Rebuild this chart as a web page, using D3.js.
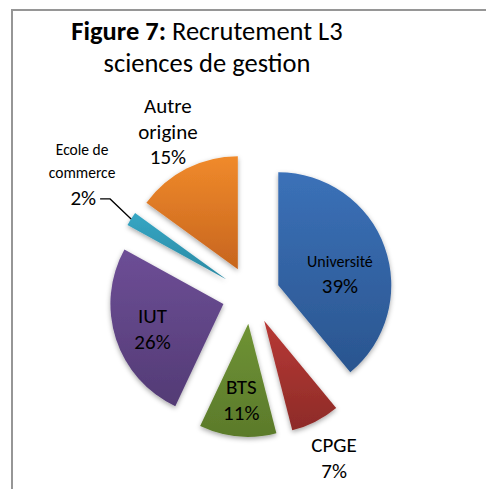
<!DOCTYPE html>
<html>
<head>
<meta charset="utf-8">
<script src="https://cdn.jsdelivr.net/npm/d3@7"></script>
<style>
  html, body { margin: 0; padding: 0; background: #fff; }
  svg { display: block; font-family: Carlito, Calibri, Lato, sans-serif; }
</style>
</head>
<body>
<svg id="chart" width="486" height="489"></svg>
<script>
// Data
const categories = ['Université', 'CPGE', 'BTS', 'IUT', 'Ecole de commerce', 'Autre origine'];
const values = [39, 7, 11, 26, 2, 15];
const labelLines = [['Université'], ['CPGE'], ['BTS'], ['IUT'], ['Ecole de', 'commerce'], ['Autre', 'origine']];

// Excel 2007 style gradient colours (top, bottom)
const COLORS = [
  ['#3b71b8', '#2a558f'],
  ['#b83935', '#8d2b28'],
  ['#6f9334', '#5b7a2b'],
  ['#6d4e96', '#533b75'],
  ['#36a6c4', '#2a89a3'],
  ['#f08a2b', '#c7651e']
];
// where each label goes: inside the slice, outside, or outside with a leader line
const LABEL_MODE = ['inside', 'outside', 'inside', 'inside', 'leader', 'outside'];

const svg = d3.select('#chart');
const width = 486;
const height = 489;

const cx = 251;
const cy = 295;
const radius = 113;
const explode = 29;
const big = 21;

// chart frame (top and left borders, the rest runs off the picture)
svg.append('path')
  .attr('d', `M12,${height} V10 H${width}`)
  .attr('fill', 'none')
  .attr('stroke', '#969696')
  .attr('stroke-width', 2);

// title
const title = svg.append('text')
  .attr('text-anchor', 'middle')
  .attr('font-size', 26.5)
  .attr('fill', '#000');
title.append('tspan')
  .attr('x', 207).attr('y', 40)
  .attr('font-weight', 'bold')
  .text('Figure 7:');
title.append('tspan')
  .text(' Recrutement L3');
title.append('tspan')
  .attr('x', 207).attr('y', 72)
  .text('sciences de gestion');

const defs = svg.append('defs');

const shadow = defs.append('filter')
  .attr('id', 'shadow')
  .attr('x', '-20%').attr('y', '-20%')
  .attr('width', '140%').attr('height', '140%');
shadow.append('feDropShadow')
  .attr('dx', 0).attr('dy', 2)
  .attr('stdDeviation', 2.5)
  .attr('flood-color', '#000')
  .attr('flood-opacity', 0.35);

COLORS.forEach((c, i) => {
  const g = defs.append('linearGradient')
    .attr('id', 'grad' + i)
    .attr('x1', 0).attr('y1', 0).attr('x2', 0).attr('y2', 1);
  g.append('stop').attr('offset', '0%').attr('stop-color', c[0]);
  g.append('stop').attr('offset', '100%').attr('stop-color', c[1]);
});

const pie = d3.pie()
  .sort(null)
  .value(d => d.value);

const arc = d3.arc()
  .innerRadius(0)
  .outerRadius(radius);

const data = categories.map((name, i) => ({
  name,
  value: values[i],
  lines: labelLines[i],
  mode: LABEL_MODE[i],
  index: i
}));

const arcs = pie(data);

// unit vector along a slice's bisector (d3 angles are clockwise from 12 o'clock)
function dir(d) {
  const a = (d.startAngle + d.endAngle) / 2;
  return [Math.sin(a), -Math.cos(a)];
}

const pieGroup = svg.append('g')
  .attr('transform', `translate(${cx},${cy})`);

pieGroup.selectAll('path')
  .data(arcs)
  .join('path')
  .attr('transform', d => {
    const [ux, uy] = dir(d);
    return `translate(${ux * explode},${uy * explode})`;
  })
  .attr('d', arc)
  .attr('fill', d => `url(#grad${d.data.index})`)
  .attr('filter', 'url(#shadow)');

// labels
const labelGroup = pieGroup.append('g')
  .attr('text-anchor', 'middle')
  .attr('fill', '#000');

arcs.forEach(d => {
  const [ux, uy] = dir(d);
  const pct = d.data.value + '%';
  const lines = d.data.lines;
  const g = labelGroup.append('g');

  if (d.data.mode === 'inside') {
    const r = explode + (d.data.index === 0 ? 0.58 : 0.66) * radius;
    const x = ux * r;
    const y = uy * r;
    const small = d.data.name === 'Université';
    const t = g.append('text').attr('x', x);
    if (small) {
      t.append('tspan').attr('x', x).attr('y', y + 4).attr('font-size', 16).text(lines[0]);
      t.append('tspan').attr('x', x).attr('y', y + 30).attr('font-size', big).text(pct);
    } else {
      t.append('tspan').attr('x', x).attr('y', y - 4).attr('font-size', big).text(lines[0]);
      t.append('tspan').attr('x', x).attr('y', y + 22).attr('font-size', big).text(pct);
    }
  } else if (d.data.mode === 'outside') {
    const r = explode + radius + 41;
    const x = ux * r;
    const y = uy * r;
    const all = lines.concat([pct]);
    const lh = 25.5;
    const y0 = y - (all.length - 1) * lh / 2 + 7;
    const t = g.append('text').attr('font-size', big);
    all.forEach((s, k) => {
      t.append('tspan').attr('x', x).attr('y', y0 + k * lh).text(s);
    });
  } else {
    // leader line from the rim of the slice to the label
    const r0 = explode + radius;
    const p0 = [ux * r0, uy * r0];
    const p1 = [p0[0] - 21, p0[1] - 20];
    const p2 = [p1[0] - 10, p1[1]];
    g.append('polyline')
      .attr('points', [p0, p1, p2].map(p => p.join(',')).join(' '))
      .attr('fill', 'none')
      .attr('stroke', '#000')
      .attr('stroke-width', 1.3);
    const tx = p2[0] - 4;
    const t = g.append('text').attr('text-anchor', 'end');
    t.append('tspan').attr('x', tx).attr('y', p2[1] + 6).attr('font-size', big).text(pct);
    const lx = tx - 14;
    t.append('tspan').attr('x', lx).attr('y', p2[1] - 44).attr('font-size', 15.5)
      .attr('text-anchor', 'middle').text(lines[0]);
    t.append('tspan').attr('x', lx).attr('y', p2[1] - 21).attr('font-size', 15.5)
      .attr('text-anchor', 'middle').text(lines[1]);
  }
});
</script>
</body>
</html>
